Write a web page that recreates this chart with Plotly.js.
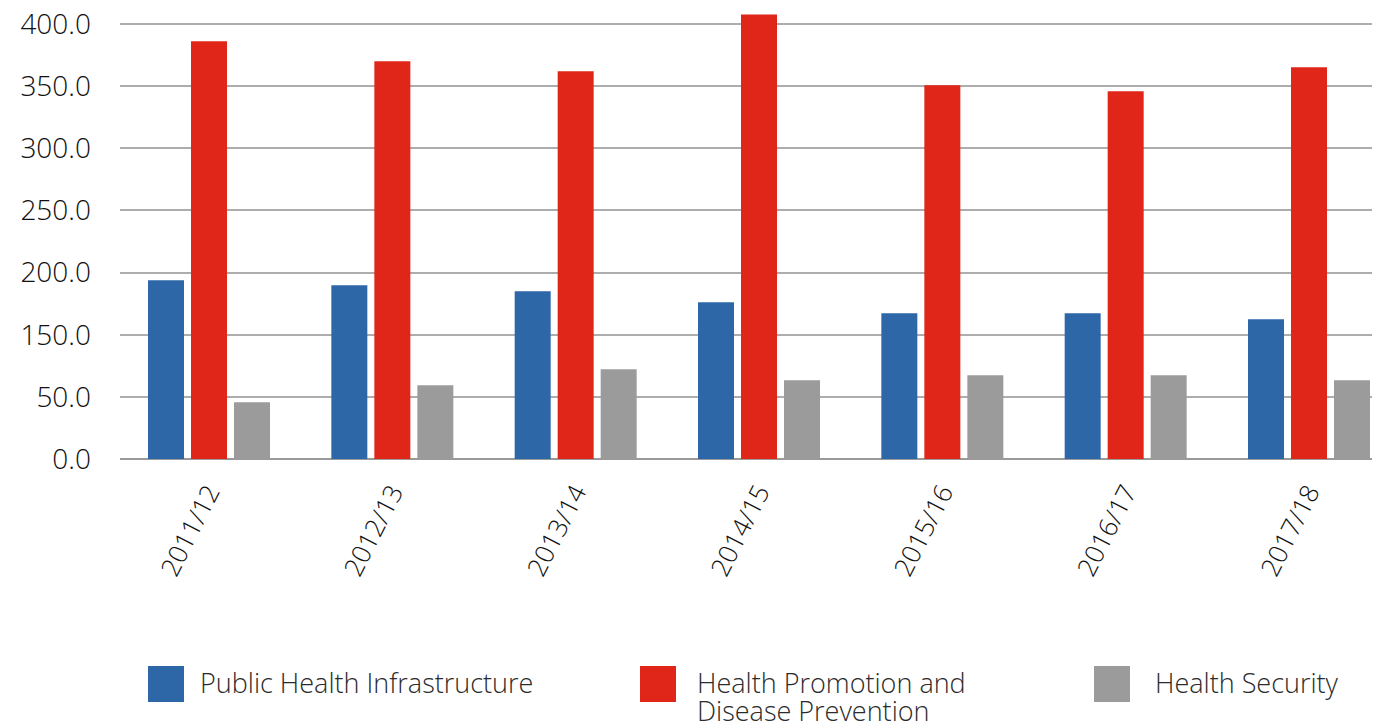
<!DOCTYPE html>
<html>
<head>
<meta charset="utf-8">
<script src="https://cdn.plot.ly/plotly-3.0.1.min.js"></script>
<style>
  html, body { margin: 0; padding: 0; background: #fff; overflow: hidden; }
  #chart { width: 1379px; height: 725px; }
</style>
</head>
<body>
<div id="chart"></div>
<script>
// Financial years on the category axis
const years = ['2011/12', '2012/13', '2013/14', '2014/15', '2015/16', '2016/17', '2017/18'];

// Spending per programme area, one value per year
const publicHealthInfrastructure = [143.8, 139.8, 135.0, 126.1, 117.2, 117.2, 112.4];
const healthPromotion = [336.1, 320.0, 311.9, 357.7, 300.7, 295.9, 315.2];
const healthSecurity = [45.6, 59.3, 72.2, 63.3, 67.3, 67.3, 63.3];

const seriesNames = ['Public Health Infrastructure', 'Health Promotion and<br>Disease Prevention', 'Health Security'];
const seriesColors = ['#2D67A8', '#E02618', '#9B9B9B'];

// Value-axis gridlines and the labels printed beside them
const gridValues = [0, 50, 100, 150, 200, 250, 300, 350];
const gridLabels = ['0.0', '50.0', '150.0', '200.0', '250.0', '300.0', '350.0', '400.0'];

const seriesValues = [publicHealthInfrastructure, healthPromotion, healthSecurity];

const FONT = '"Open Sans", Lato, sans-serif';
const W = 1379, H = 725;
const M = { l: 120, r: 7, t: 5, b: 266 };
const plotW = W - M.l - M.r, plotH = H - M.t - M.b;

// pixel -> paper helpers for the custom key below the chart
const px = x => (x - M.l) / plotW;
const py = y => (H - M.b - y) / plotH;

const traces = seriesValues.map((vals, i) => ({
  type: 'bar',
  x: years,
  y: vals,
  name: seriesNames[i].replace('<br>', ' '),
  marker: { color: seriesColors[i], line: { width: 0 } },
  hoverinfo: 'x+y+name'
}));

// Key: coloured squares plus labels
const keySquareX = [148, 640, 1094];
const keyTextX = [200, 697, 1155];
const keyTop = 666, keySize = 36, keyLineGap = 29;

const shapes = seriesColors.map((c, i) => ({
  type: 'rect', xref: 'paper', yref: 'paper',
  x0: px(keySquareX[i]), x1: px(keySquareX[i] + keySize),
  y0: py(keyTop + keySize), y1: py(keyTop),
  fillcolor: c, line: { width: 0 }
}));

const annotations = [];
seriesNames.forEach((name, i) => {
  name.split('<br>').forEach((line, j) => {
    annotations.push({
      xref: 'paper', yref: 'paper',
      x: px(keyTextX[i] - 2), y: py(keyTop + keySize / 2 - 2 + j * keyLineGap),
      xanchor: 'left', yanchor: 'middle',
      text: line, showarrow: false,
      font: { family: FONT, size: 27, weight: 300, color: '#2b2b2b' }
    });
  });
});

const layout = {
  width: W, height: H,
  margin: M,
  paper_bgcolor: '#ffffff',
  plot_bgcolor: '#ffffff',
  font: { family: FONT, size: 26, color: '#111111' },
  barmode: 'group',
  bargap: 0.2964,
  bargroupgap: 0.1628,
  showlegend: false,
  xaxis: {
    type: 'category',
    range: [-0.4855, 6.3436],
    tickangle: -63,
    tickfont: { family: FONT, size: 26, weight: 300, color: '#111111' },
    showgrid: false, showline: false, zeroline: false,
    ticks: '',
    ticklabelstandoff: 12,
    fixedrange: true
  },
  yaxis: {
    range: [0, plotH / (435 / 350)],
    tickmode: 'array',
    tickvals: gridValues,
    ticktext: gridLabels,
    tickfont: { family: FONT, size: 28, weight: 300, color: '#111111' },
    showgrid: true, gridcolor: '#adadad', gridwidth: 2,
    zeroline: true, zerolinecolor: '#9a9a9a', zerolinewidth: 2,
    showline: false, ticks: '',
    ticklabelstandoff: 28,
    fixedrange: true
  },
  shapes: shapes,
  annotations: annotations
};

Plotly.newPlot('chart', traces, layout, { displayModeBar: false, staticPlot: true });
</script>
</body>
</html>
